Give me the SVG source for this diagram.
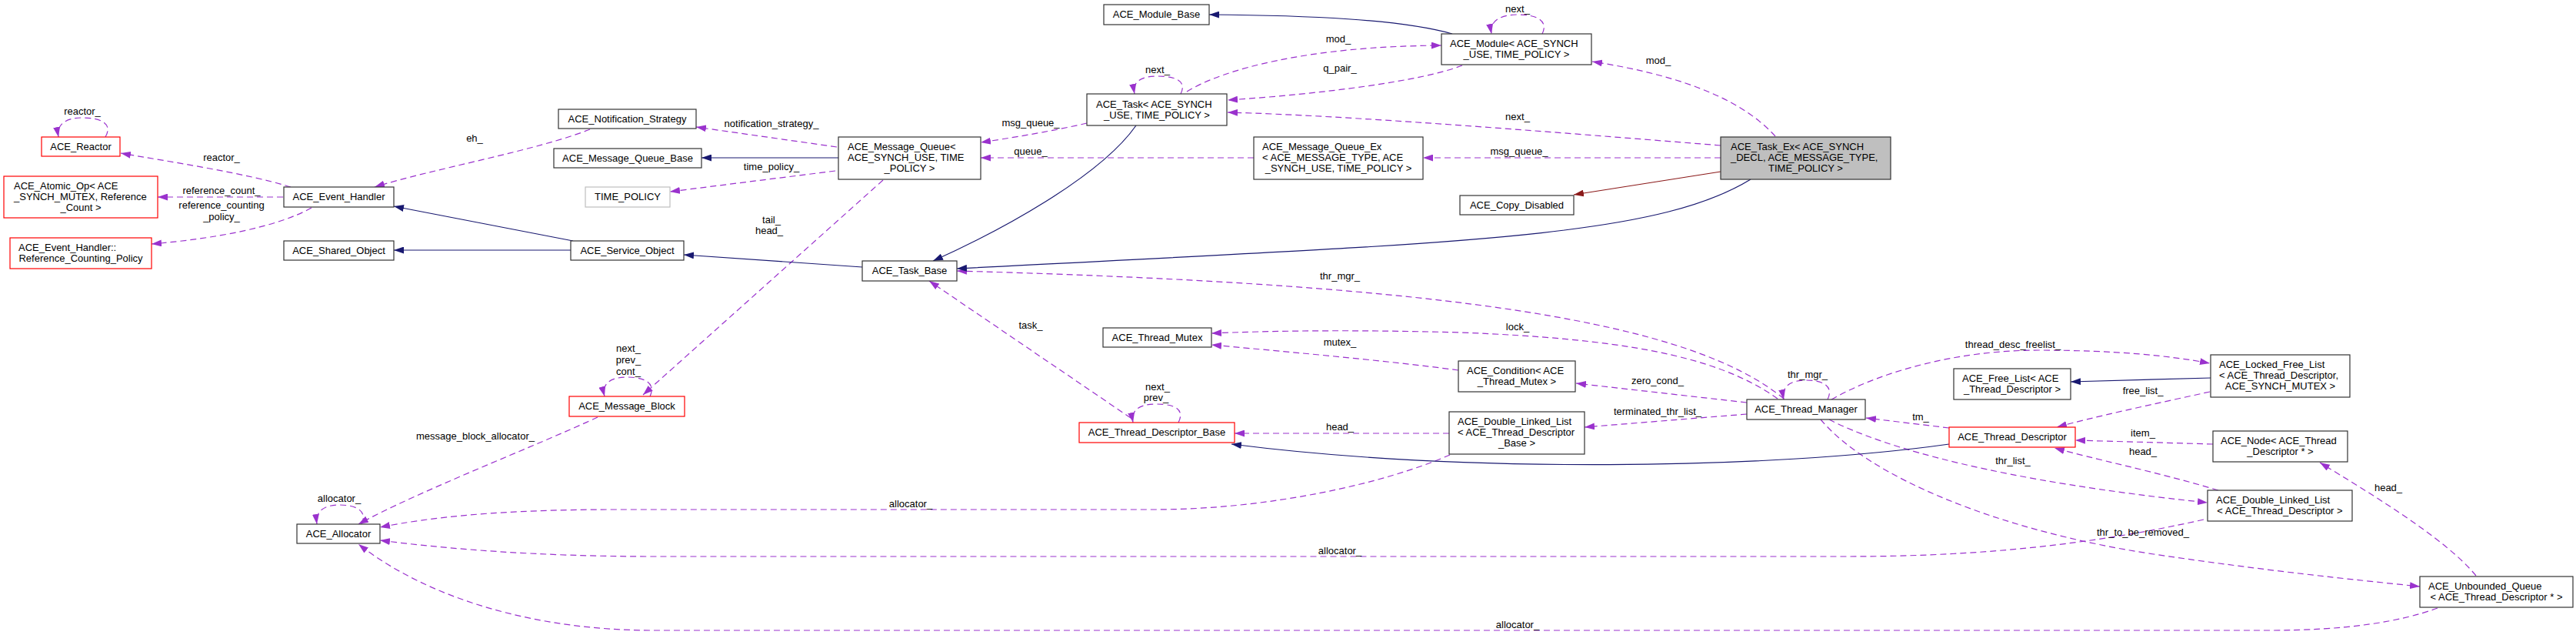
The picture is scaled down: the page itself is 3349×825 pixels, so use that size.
<svg xmlns="http://www.w3.org/2000/svg" width="3349" height="825" viewBox="0 0 3349 825">
<style>
text{font-family:"Liberation Sans",Arial,Helvetica,sans-serif;font-size:13px;fill:#000}
.m{text-anchor:middle}
.nd{fill:#fff;stroke:#333;stroke-width:1.2}
.rd{fill:#fff;stroke:#ff0000;stroke-width:1.2}
.gy{fill:#fff;stroke:#bfbfbf;stroke-width:1.2}
.cur{fill:#bfbfbf;stroke:#333;stroke-width:1.2}
.c{fill:none;stroke:#9a32cd;stroke-width:1.2;stroke-dasharray:8,5;marker-end:url(#ap)}
.i{fill:none;stroke:#191970;stroke-width:1.2;marker-end:url(#an)}
.p{fill:none;stroke:#8b1a1a;stroke-width:1.2;marker-end:url(#ar)}
</style>
<defs>
<marker id="ap" markerWidth="13" markerHeight="9" refX="13" refY="4.5" orient="auto" markerUnits="userSpaceOnUse" viewBox="0 0 13 9"><path d="M0,0 L13,4.5 L0,9 z" fill="#9a32cd"/></marker>
<marker id="an" markerWidth="13" markerHeight="9" refX="13" refY="4.5" orient="auto" markerUnits="userSpaceOnUse" viewBox="0 0 13 9"><path d="M0,0 L13,4.5 L0,9 z" fill="#191970"/></marker>
<marker id="ar" markerWidth="13" markerHeight="9" refX="13" refY="4.5" orient="auto" markerUnits="userSpaceOnUse" viewBox="0 0 13 9"><path d="M0,0 L13,4.5 L0,9 z" fill="#8b1a1a"/></marker>
</defs>
<rect width="3349" height="825" fill="#fff"/>
<g id="connectors">
<path class="c" d="M137,178 C147,161 132,153 107,153 C85,153 73,162 76,178"/>
<path class="c" d="M378,243 C320,225 220,210 157,199"/>
<path class="c" d="M368,256 L205,256"/>
<path class="c" d="M405,270 C360,295 280,310 197,317"/>
<path class="c" d="M767,168 C700,195 560,220 487,243"/>
<path class="c" d="M1088,191 L905,165"/>
<path class="c" d="M1086,222 L871,249"/>
<path class="c" d="M1413,160 C1370,170 1310,180 1275,185"/>
<path class="c" d="M1630,205 L1275,205"/>
<path class="c" d="M1148,234 L836,513"/>
<path class="c" d="M845,515 C852,500 842,490 815,490 C792,490 782,500 786,515"/>
<path class="c" d="M777,542 C700,578 540,640 466,681"/>
<path class="c" d="M470,681 C478,665 465,656 441,656 C420,656 410,665 412,681"/>
<path class="c" d="M1885,591 C1800,628 1650,662 1500,662 L800,662 C650,662 560,672 494,685"/>
<path class="c" d="M2865,675 C2700,712 2550,723 2400,723 L850,723 C700,723 580,713 494,702"/>
<path class="c" d="M3169,790 C3120,808 3050,819 2950,819 L850,819 C700,819 560,780 466,707"/>
<path class="c" d="M1543,119 C1590,90 1700,60 1874,59"/>
<path class="c" d="M1901,85 C1850,105 1720,122 1596,130"/>
<path class="c" d="M2237,189 C2000,170 1750,150 1596,146"/>
<path class="c" d="M1535,122 C1543,106 1530,99 1505,99 C1483,99 1472,106 1475,122"/>
<path class="c" d="M2005,44 C2013,28 2000,19 1973,19 C1950,19 1936,28 1939,44"/>
<path class="c" d="M2308,177 C2270,135 2200,100 2070,80"/>
<path class="c" d="M2237,205 L1850,205"/>
<path class="c" d="M2319,518 C2200,420 1900,370 1244,352"/>
<path class="c" d="M1470,543 L1208,365"/>
<path class="c" d="M1532,549 C1540,533 1530,525 1503,525 C1481,525 1470,533 1473,549"/>
<path class="c" d="M1884,563 L1605,563"/>
<path class="c" d="M2311,518 C2230,460 2100,440 1900,432 C1750,428 1650,430 1575,433"/>
<path class="c" d="M1896,481 C1800,468 1650,455 1575,448"/>
<path class="c" d="M2271,523 L2049,498"/>
<path class="c" d="M2271,538 L2060,555"/>
<path class="c" d="M2376,519 C2384,503 2372,494 2348,494 C2326,494 2316,503 2319,519"/>
<path class="c" d="M2381,519 C2450,480 2550,455 2650,455 C2750,455 2820,462 2873,472"/>
<path class="c" d="M2534,556 L2426,543"/>
<path class="c" d="M2378,545 C2450,582 2600,625 2870,653"/>
<path class="c" d="M2367,545 C2430,620 2600,690 2800,720 C2950,742 3050,752 3146,762"/>
<path class="c" d="M2873,509 C2800,525 2720,542 2674,555"/>
<path class="c" d="M2877,577 L2698,572"/>
<path class="c" d="M2884,637 C2800,612 2720,596 2671,582"/>
<path class="c" d="M3219,748 C3180,700 3080,640 3016,601"/>
<path class="i" d="M1888,44 C1820,25 1700,20 1572,19"/>
<path class="i" d="M1477,163 C1430,230 1300,300 1213,339"/>
<path class="i" d="M1090,205 L912,205"/>
<path class="i" d="M1121,347 L889,331"/>
<path class="i" d="M745,313 L512,268"/>
<path class="i" d="M742,325 L512,325"/>
<path class="i" d="M2276,233 C2150,310 1900,315 1244,349"/>
<path class="i" d="M2874,491 L2692,496"/>
<path class="i" d="M2534,577 C2300,610 1900,615 1601,577"/>
<path class="p" d="M2237,223 L2046,253"/>
<text class="m" x="107" y="149">reactor_</text>
<text class="m" x="288" y="209">reactor_</text>
<text class="m" x="288" y="252">reference_count_</text>
<text class="m" x="288" y="271">reference_counting</text>
<text class="m" x="288" y="286">_policy_</text>
<text class="m" x="617" y="184">eh_</text>
<text class="m" x="1003" y="165">notification_strategy_</text>
<text class="m" x="1003" y="221">time_policy_</text>
<text class="m" x="1340" y="164">msg_queue_</text>
<text class="m" x="1340" y="201">queue_</text>
<text class="m" x="1003" y="290">tail_</text>
<text class="m" x="1000" y="304">head_</text>
<text class="m" x="817" y="457">next_</text>
<text class="m" x="817" y="472">prev_</text>
<text class="m" x="817" y="487">cont_</text>
<text class="m" x="618" y="571">message_block_allocator_</text>
<text class="m" x="441" y="652">allocator_</text>
<text class="m" x="1184" y="659">allocator_</text>
<text class="m" x="1742" y="720">allocator_</text>
<text class="m" x="1973" y="816">allocator_</text>
<text class="m" x="1740" y="55">mod_</text>
<text class="m" x="1742" y="93">q_pair_</text>
<text class="m" x="1973" y="156">next_</text>
<text class="m" x="1505" y="95">next_</text>
<text class="m" x="1973" y="16">next_</text>
<text class="m" x="2156" y="83">mod_</text>
<text class="m" x="1975" y="201">msg_queue_</text>
<text class="m" x="1742" y="363">thr_mgr_</text>
<text class="m" x="1340" y="427">task_</text>
<text class="m" x="1505" y="507">next_</text>
<text class="m" x="1503" y="521">prev_</text>
<text class="m" x="1742" y="559">head_</text>
<text class="m" x="1973" y="429">lock_</text>
<text class="m" x="1742" y="449">mutex_</text>
<text class="m" x="2155" y="499">zero_cond_</text>
<text class="m" x="2155" y="539">terminated_thr_list_</text>
<text class="m" x="2350" y="491">thr_mgr_</text>
<text class="m" x="2617" y="452">thread_desc_freelist_</text>
<text class="m" x="2497" y="546">tm_</text>
<text class="m" x="2617" y="603">thr_list_</text>
<text class="m" x="2786" y="696">thr_to_be_removed_</text>
<text class="m" x="2786" y="512">free_list_</text>
<text class="m" x="2786" y="567">item_</text>
<text class="m" x="2786" y="591">head_</text>
<text class="m" x="3105" y="638">head_</text>
</g>
<g id="n_reactor"><rect class="rd" x="54" y="178" width="102" height="25"/><text class="m" x="105" y="194.5">ACE_Reactor</text></g>
<g id="n_atomic_op"><rect class="rd" x="5" y="229" width="200" height="54"/><text x="18" y="245.5">ACE_Atomic_Op&lt; ACE</text><text x="18" y="259.5">_SYNCH_MUTEX, Reference</text><text class="m" x="105" y="273.5">_Count &gt;</text></g>
<g id="n_rcp"><rect class="rd" x="13" y="309" width="184" height="40"/><text x="24" y="326">ACE_Event_Handler::</text><text class="m" x="105" y="340">Reference_Counting_Policy</text></g>
<g id="n_event_handler"><rect class="nd" x="369" y="243" width="143" height="26"/><text class="m" x="440.5" y="260">ACE_Event_Handler</text></g>
<g id="n_shared_object"><rect class="nd" x="369" y="313" width="143" height="25"/><text class="m" x="440.5" y="329.5">ACE_Shared_Object</text></g>
<g id="n_notification_strategy"><rect class="nd" x="726" y="142" width="179" height="25"/><text class="m" x="815.5" y="158.5">ACE_Notification_Strategy</text></g>
<g id="n_mq_base"><rect class="nd" x="720" y="193" width="192" height="25"/><text class="m" x="816" y="209.5">ACE_Message_Queue_Base</text></g>
<g id="n_time_policy"><rect class="gy" x="761" y="243" width="110" height="26"/><text class="m" x="816" y="260">TIME_POLICY</text></g>
<g id="n_service_object"><rect class="nd" x="742" y="313" width="147" height="25"/><text class="m" x="815.5" y="329.5">ACE_Service_Object</text></g>
<g id="n_message_block"><rect class="rd" x="740" y="515" width="150" height="26"/><text class="m" x="815" y="532">ACE_Message_Block</text></g>
<g id="n_allocator"><rect class="nd" x="386" y="681" width="108" height="25"/><text class="m" x="440" y="697.5">ACE_Allocator</text></g>
<g id="n_message_queue"><rect class="nd" x="1090" y="178" width="185" height="55"/><text x="1102" y="195">ACE_Message_Queue&lt;</text><text x="1102" y="209">ACE_SYNCH_USE, TIME</text><text class="m" x="1182.5" y="223">_POLICY &gt;</text></g>
<g id="n_task_base"><rect class="nd" x="1121" y="339" width="123" height="26"/><text class="m" x="1182.5" y="356">ACE_Task_Base</text></g>
<g id="n_module_base"><rect class="nd" x="1435" y="6" width="137" height="26"/><text class="m" x="1503.5" y="23">ACE_Module_Base</text></g>
<g id="n_task"><rect class="nd" x="1413" y="122" width="182" height="41"/><text x="1425" y="139.5">ACE_Task&lt; ACE_SYNCH</text><text class="m" x="1504" y="153.5">_USE, TIME_POLICY &gt;</text></g>
<g id="n_thread_mutex"><rect class="nd" x="1434" y="426" width="141" height="25"/><text class="m" x="1504.5" y="442.5">ACE_Thread_Mutex</text></g>
<g id="n_tdb"><rect class="rd" x="1403" y="549" width="202" height="26"/><text class="m" x="1504" y="566">ACE_Thread_Descriptor_Base</text></g>
<g id="n_mq_ex"><rect class="nd" x="1630" y="178" width="220" height="55"/><text x="1641" y="195">ACE_Message_Queue_Ex</text><text x="1641" y="209">&lt; ACE_MESSAGE_TYPE, ACE</text><text class="m" x="1740" y="223">_SYNCH_USE, TIME_POLICY &gt;</text></g>
<g id="n_module"><rect class="nd" x="1874" y="44" width="195" height="40"/><text x="1885" y="61">ACE_Module&lt; ACE_SYNCH</text><text class="m" x="1971.5" y="75">_USE, TIME_POLICY &gt;</text></g>
<g id="n_copy_disabled"><rect class="nd" x="1898" y="254" width="148" height="25"/><text class="m" x="1972" y="270.5">ACE_Copy_Disabled</text></g>
<g id="n_condition"><rect class="nd" x="1896" y="469" width="152" height="40"/><text x="1907" y="486">ACE_Condition&lt; ACE</text><text class="m" x="1972" y="500">_Thread_Mutex &gt;</text></g>
<g id="n_dll_tdb"><rect class="nd" x="1884" y="535" width="176" height="55"/><text x="1895" y="552">ACE_Double_Linked_List</text><text x="1895" y="566">&lt; ACE_Thread_Descriptor</text><text class="m" x="1972" y="580">_Base &gt;</text></g>
<g id="n_task_ex"><rect class="cur" x="2237" y="178" width="221" height="55"/><text x="2250" y="195">ACE_Task_Ex&lt; ACE_SYNCH</text><text x="2250" y="209">_DECL, ACE_MESSAGE_TYPE,</text><text class="m" x="2347.5" y="223">TIME_POLICY &gt;</text></g>
<g id="n_thread_manager"><rect class="nd" x="2271" y="519" width="154" height="26"/><text class="m" x="2348" y="536">ACE_Thread_Manager</text></g>
<g id="n_free_list"><rect class="nd" x="2540" y="479" width="152" height="40"/><text x="2551" y="496">ACE_Free_List&lt; ACE</text><text class="m" x="2616" y="510">_Thread_Descriptor &gt;</text></g>
<g id="n_thread_descriptor"><rect class="rd" x="2534" y="555" width="164" height="26"/><text class="m" x="2616" y="572">ACE_Thread_Descriptor</text></g>
<g id="n_locked_free_list"><rect class="nd" x="2874" y="461" width="181" height="55"/><text x="2885" y="478">ACE_Locked_Free_List</text><text x="2885" y="492">&lt; ACE_Thread_Descriptor,</text><text class="m" x="2964.5" y="506">ACE_SYNCH_MUTEX &gt;</text></g>
<g id="n_node"><rect class="nd" x="2877" y="560" width="175" height="40"/><text x="2887" y="577">ACE_Node&lt; ACE_Thread</text><text class="m" x="2964.5" y="591">_Descriptor * &gt;</text></g>
<g id="n_dll_td"><rect class="nd" x="2870" y="637" width="188" height="40"/><text x="2881" y="654">ACE_Double_Linked_List</text><text class="m" x="2964" y="668">&lt; ACE_Thread_Descriptor &gt;</text></g>
<g id="n_unbounded_queue"><rect class="nd" x="3146" y="749" width="199" height="40"/><text x="3157" y="766">ACE_Unbounded_Queue</text><text class="m" x="3245.5" y="780">&lt; ACE_Thread_Descriptor * &gt;</text></g>
</svg>
